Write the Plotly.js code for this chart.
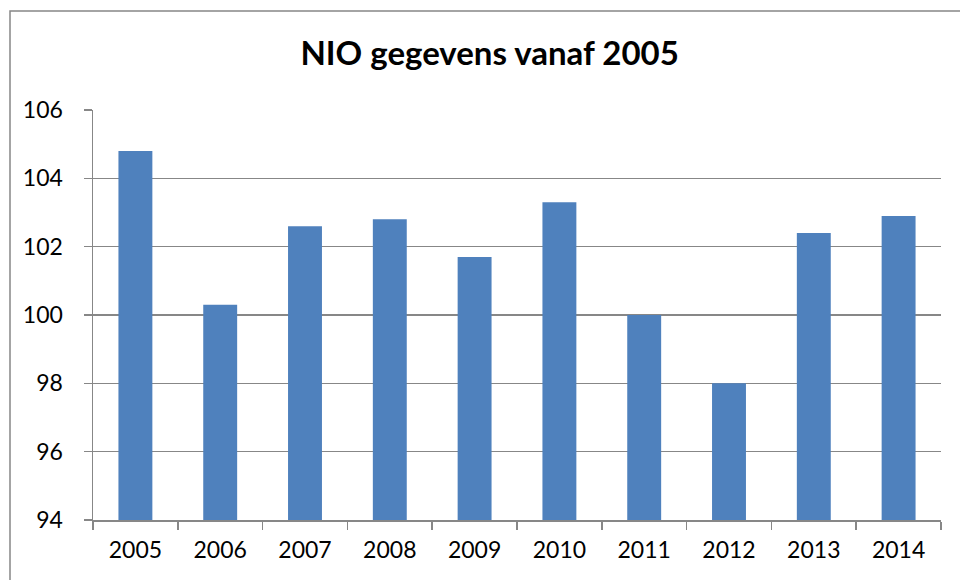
<!DOCTYPE html>
<html>
<head>
<meta charset="utf-8">
<script src="https://cdn.plot.ly/plotly-3.0.1.min.js"></script>
<style>html,body{margin:0;padding:0;background:#fff;}#chart{width:960px;height:580px;}</style>
</head>
<body>
<div id="chart"></div>
<script>
const years = ['2005','2006','2007','2008','2009','2010','2011','2012','2013','2014'];
const nioValues = [104.8, 100.3, 102.6, 102.8, 101.7, 103.3, 100.0, 98.0, 102.4, 102.9];
const yTicks = [94, 96, 98, 100, 102, 104, 106];
const chartTitle = 'NIO gegevens vanaf 2005';

const gridColor = '#878787';
const fontFam = 'Lato, "Open Sans", sans-serif';

const trace = {
  type: 'bar',
  x: years,
  y: nioValues,
  marker: {color: '#4F81BD'},
  hoverinfo: 'x+y'
};

const layout = {
  width: 960, height: 580,
  margin: {l: 93, r: 19, t: 110, b: 60},
  paper_bgcolor: '#ffffff',
  plot_bgcolor: '#ffffff',
  bargap: 0.6,
  showlegend: false,
  title: {
    text: '<b>' + chartTitle + '</b>',
    font: {family: fontFam, size: 33, color: '#000000'},
    x: 0.51, xanchor: 'center',
    y: 1 - 53/580, yanchor: 'middle'
  },
  xaxis: {
    type: 'category',
    tickson: 'boundaries',
    ticks: 'outside', ticklen: 8, tickcolor: gridColor, tickwidth: 1.5,
    showline: true, linecolor: gridColor, linewidth: 1.5,
    showgrid: false,
    tickfont: {family: fontFam, size: 23, color: '#000000'},
    ticklabelstandoff: 9
  },
  yaxis: {
    range: [94, 106],
    tickvals: yTicks,
    ticktext: yTicks.map(String),
    ticks: 'outside', ticklen: 8, tickcolor: gridColor, tickwidth: 1.5,
    showline: true, linecolor: gridColor, linewidth: 1.5,
    showgrid: true, gridcolor: gridColor, gridwidth: 1.5,
    zeroline: false,
    tickfont: {family: fontFam, size: 23, color: '#000000'},
    ticklabelstandoff: 16
  },
  shapes: [{
    type: 'rect', xref: 'paper', yref: 'paper',
    x0: (10 - 93) / 848, x1: (970 - 93) / 848,
    y0: (520 - 590) / 410, y1: (520 - 11) / 410,
    line: {color: gridColor, width: 1.5},
    fillcolor: 'rgba(0,0,0,0)',
    layer: 'below'
  }]
};

Plotly.newPlot('chart', [trace], layout, {staticPlot: true});
</script>
</body>
</html>
